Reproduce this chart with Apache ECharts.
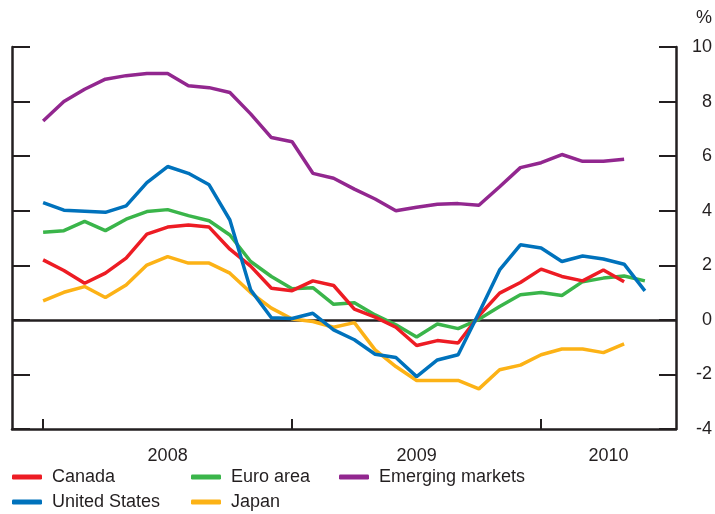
<!DOCTYPE html>
<html>
<head>
<meta charset="utf-8">
<script src="https://cdn.jsdelivr.net/npm/echarts@6/dist/echarts.min.js"></script>
<style>html,body{margin:0;padding:0;background:#fff;}#c{width:715px;height:514px;}</style>
</head>
<body>
<div id="c"></div>
<script>
// Monthly observations, Jan 2008 onward (index 0 = first tick)
const months = ['2008-01','2008-02','2008-03','2008-04','2008-05','2008-06','2008-07','2008-08','2008-09','2008-10','2008-11','2008-12',
  '2009-01','2009-02','2009-03','2009-04','2009-05','2009-06','2009-07','2009-08','2009-09','2009-10','2009-11','2009-12',
  '2010-01','2010-02','2010-03','2010-04','2010-05','2010-06'];
const yearTicks = [0, 12, 24];
const yearLabelPos = [6, 18, 27.25];
const yearLabels = ['2008', '2009', '2010'];

const canada = [2.20, 1.81, 1.34, 1.71, 2.26, 3.14, 3.40, 3.48, 3.40, 2.59, 1.97, 1.16, 1.07, 1.43, 1.26, 0.39, 0.10, -0.27, -0.94, -0.76, -0.85, 0.15, 0.98, 1.37, 1.86, 1.59, 1.43, 1.83, 1.40];
const unitedStates = [4.30, 4.02, 3.98, 3.94, 4.18, 5.03, 5.62, 5.37, 4.95, 3.66, 1.10, 0.08, 0.05, 0.24, -0.37, -0.73, -1.26, -1.38, -2.08, -1.47, -1.28, 0.25, 1.83, 2.75, 2.63, 2.14, 2.34, 2.23, 2.04, 1.06];
const euroArea = [3.21, 3.27, 3.61, 3.27, 3.69, 3.97, 4.04, 3.82, 3.63, 3.11, 2.14, 1.59, 1.14, 1.18, 0.57, 0.63, 0.18, -0.18, -0.63, -0.15, -0.32, 0.02, 0.49, 0.92, 1.00, 0.89, 1.40, 1.53, 1.61, 1.43];
const japan = [0.70, 1.01, 1.22, 0.82, 1.28, 2.01, 2.32, 2.08, 2.08, 1.71, 1.00, 0.43, 0.03, -0.06, -0.27, -0.10, -1.10, -1.71, -2.22, -2.22, -2.22, -2.53, -1.83, -1.66, -1.28, -1.07, -1.07, -1.20, -0.88];
const emerging = [7.29, 8.00, 8.45, 8.82, 8.95, 9.03, 9.03, 8.58, 8.51, 8.33, 7.55, 6.68, 6.53, 5.37, 5.19, 4.79, 4.43, 4.00, 4.13, 4.24, 4.26, 4.20, 4.88, 5.58, 5.76, 6.06, 5.81, 5.81, 5.89];

const C = {canada:'#ed1c24', us:'#0072bc', euro:'#3ab54a', japan:'#fcb216', em:'#92278f'};
const ink = '#231f20';
const font = 'Liberation Sans, Arial, sans-serif';
const fs = 18;

function pts(arr){ return arr.map((v,i)=>[i, v]); }
function line(name, arr, color, z){
  return {name, type:'line', data:pts(arr), symbol:'none', z,
    lineStyle:{color, width:3.5}, itemStyle:{color}};
}
function leg(name, left, top){
  return {data:[name], left, top, padding:0, orient:'horizontal', icon:'roundRect', itemWidth:30, itemHeight:5,
    textStyle:{fontFamily:font, fontSize:fs, color:ink, padding:[0,0,0,5]}, selectedMode:false};
}

const chart = echarts.init(document.getElementById('c'), null, {renderer:'canvas'});
chart.setOption({
  animation:false,
  backgroundColor:'#fff',
  grid:{left:12, right:36, top:47, bottom:85, containLabel:false},
  legend:[
    leg('Canada', 12, 468),
    leg('Euro area', 191, 468),
    leg('Emerging markets', 339, 468),
    leg('United States', 12, 493),
    leg('Japan', 191, 493)
  ],
  xAxis:[{
    type:'value', min:-1.5, max:30.5,
    axisLine:{show:true, onZero:false, lineStyle:{color:ink, width:2.5}},
    axisTick:{show:true, inside:true, length:10, customValues:yearTicks, lineStyle:{color:ink, width:2}},
    axisLabel:{show:true, customValues:yearLabelPos, margin:18, fontFamily:font, fontSize:fs, color:ink,
      formatter:(v)=>{ const i = yearLabelPos.indexOf(v); return i>=0 ? yearLabels[i] : ''; }},
    splitLine:{show:false}
  }],
  yAxis:[{
    type:'value', min:-4, max:10, interval:2, position:'left',
    axisLine:{show:true, onZero:false, lineStyle:{color:ink, width:2.5}},
    axisTick:{show:true, inside:true, length:18, lineStyle:{color:ink, width:2}},
    axisLabel:{show:false}, splitLine:{show:false}
  },{
    type:'value', min:-4, max:10, interval:2, position:'right',
    name:'%', nameLocation:'end', nameGap:20,
    nameTextStyle:{fontFamily:font, fontSize:fs, color:ink, align:'right', padding:[0,-36,0,0]},
    axisLine:{show:true, onZero:false, lineStyle:{color:ink, width:2.5}},
    axisTick:{show:true, inside:true, length:17, lineStyle:{color:ink, width:2}},
    axisLabel:{show:true, align:'right', margin:36, fontFamily:font, fontSize:fs, color:ink},
    splitLine:{show:false}
  }],
  series:[
    Object.assign(line('Euro area', euroArea, C.euro, 2), {
      markLine:{silent:true, symbol:'none', label:{show:false}, lineStyle:{color:ink, width:2.5, type:'solid'},
        data:[{yAxis:0}], z:1}
    }),
    line('Japan', japan, C.japan, 3),
    line('Emerging markets', emerging, C.em, 4),
    line('Canada', canada, C.canada, 5),
    line('United States', unitedStates, C.us, 6)
  ]
});
</script>
</body>
</html>
